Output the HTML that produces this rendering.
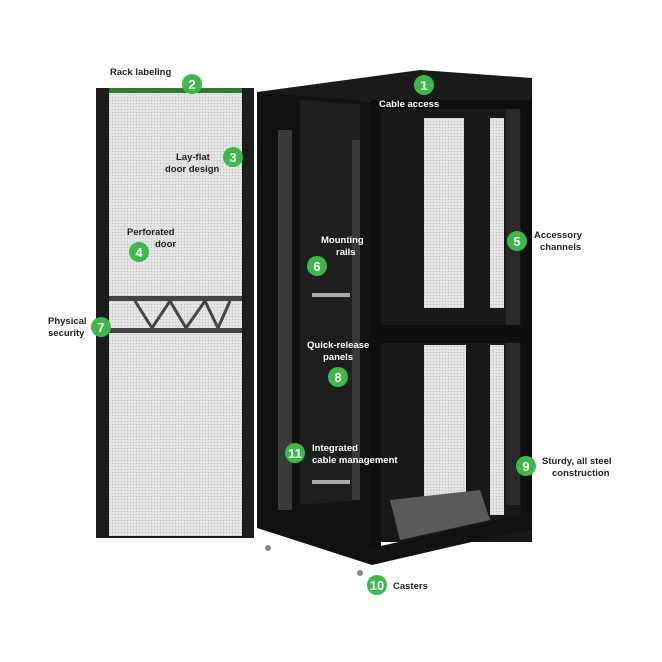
<!DOCTYPE html>
<html><head><meta charset="utf-8"><style>
html,body{margin:0;padding:0;background:#fff;}
svg{display:block}
text{font-family:"Liberation Sans",Arial,sans-serif;font-weight:bold;font-size:9.5px;fill:#222}
.n{fill:#fff;font-size:13px;text-anchor:middle}
</style></head><body>
<svg width="662" height="662" viewBox="0 0 662 662">
<defs>
<pattern id="perf" width="3" height="3" patternUnits="userSpaceOnUse">
<rect width="3" height="3" fill="#e6e6e6"/><circle cx="1.5" cy="1.5" r="0.8" fill="#c4c4c4"/>
</pattern>
</defs>
<!-- door -->
<rect x="96" y="88" width="158" height="450" fill="#1c1c1c"/>
<rect x="109" y="92" width="133" height="444" fill="url(#perf)"/>
<rect x="109" y="88" width="133" height="5" fill="#2f7a2f"/>
<rect x="109" y="296" width="133" height="5" fill="#444"/>
<rect x="109" y="328" width="133" height="5" fill="#444"/>
<g fill="none" stroke="#444" stroke-width="3">
<polyline points="135,301 152,328 170,301 186,328 205,301 218,328 230,301"/>
</g>
<!-- cabinet top -->
<polygon points="257,92 420,70 532,78 532,102 372,102 257,95" fill="#1a1a1a"/>
<!-- left side interior -->
<polygon points="257,92 372,102 372,560 257,520" fill="#111"/>
<polygon points="300,100 360,104 360,500 300,505" fill="#1e1e1e"/>
<g fill="#3a3a3a">
<rect x="278" y="130" width="14" height="380"/>
<rect x="352" y="140" width="8" height="360"/>
</g>
<rect x="312" y="293" width="38" height="4" fill="#aaa"/>
<rect x="312" y="480" width="38" height="4" fill="#aaa"/>
<!-- right interior -->
<rect x="372" y="102" width="160" height="440" fill="#181818"/>
<rect x="424" y="118" width="40" height="190" fill="url(#perf)"/>
<rect x="424" y="345" width="42" height="155" fill="url(#perf)"/>
<rect x="490" y="118" width="14" height="190" fill="url(#perf)"/>
<rect x="490" y="345" width="14" height="170" fill="url(#perf)"/>
<rect x="506" y="105" width="14" height="400" fill="#2a2a2a"/>
<polygon points="390,500 480,490 490,520 400,540" fill="#5a5a5a"/>
<!-- front frame -->
<rect x="370" y="100" width="162" height="9" fill="#0e0e0e"/>
<rect x="370" y="100" width="11" height="462" fill="#0e0e0e"/>
<rect x="521" y="100" width="11" height="430" fill="#0e0e0e"/>
<rect x="370" y="325" width="162" height="18" fill="#0e0e0e"/>
<!-- base -->
<polygon points="257,512 372,548 532,512 532,528 372,565 257,528" fill="#111"/>
<circle cx="268" cy="548" r="3" fill="#888"/><circle cx="360" cy="573" r="3" fill="#888"/>
<!-- labels -->
<g fill="#3cb94a">
<circle cx="424" cy="85" r="10"/><circle cx="192" cy="84" r="10"/><circle cx="233" cy="157" r="10"/>
<circle cx="139" cy="252" r="10"/><circle cx="517" cy="241" r="10"/><circle cx="317" cy="266" r="10"/>
<circle cx="101" cy="327" r="10"/><circle cx="338" cy="377" r="10"/><circle cx="526" cy="466" r="10"/>
<circle cx="377" cy="585" r="10"/><circle cx="295" cy="453" r="10"/>
</g>
<text class="n" x="424" y="90">1</text><text class="n" x="192" y="89">2</text><text class="n" x="233" y="162">3</text>
<text class="n" x="139" y="257">4</text><text class="n" x="517" y="246">5</text><text class="n" x="317" y="271">6</text>
<text class="n" x="101" y="332">7</text><text class="n" x="338" y="382">8</text><text class="n" x="526" y="471">9</text>
<text class="n" x="377" y="590">10</text><text class="n" x="295" y="458">11</text>
<text x="110" y="75">Rack labeling</text>
<text x="379" y="107" style="fill:#fff">Cable access</text>
<text x="176" y="160">Lay-flat</text><text x="165" y="172">door design</text>
<text x="127" y="235">Perforated</text><text x="155" y="247">door</text>
<text x="534" y="238">Accessory</text><text x="540" y="250">channels</text>
<text x="321" y="243" style="fill:#fff">Mounting</text><text x="336" y="255" style="fill:#fff">rails</text>
<text x="48" y="324">Physical</text><text x="48" y="336">security</text>
<text x="307" y="348" style="fill:#fff">Quick-release</text><text x="323" y="360" style="fill:#fff">panels</text>
<text x="312" y="451" style="fill:#fff">Integrated</text><text x="312" y="463" style="fill:#fff">cable management</text>
<text x="542" y="464">Sturdy, all steel</text><text x="552" y="476">construction</text>
<text x="393" y="589">Casters</text>
</svg>
</body></html>
